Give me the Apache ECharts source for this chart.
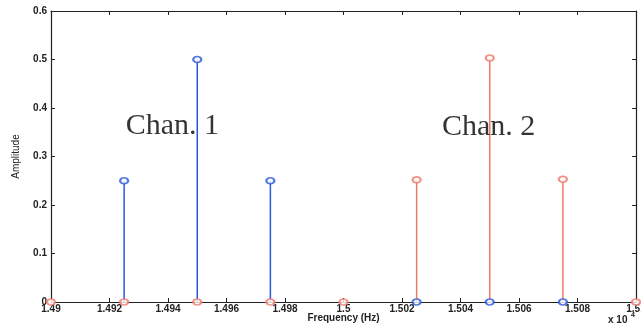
<!DOCTYPE html>
<html><head><meta charset="utf-8">
<script src="https://cdn.jsdelivr.net/npm/echarts@6/dist/echarts.min.js"></script>
<style>html,body{margin:0;padding:0;background:#fff}#c{width:641px;height:325px}</style>
</head><body><div id="c"></div>
<script>
// Frequencies in units of 1e4 Hz
const freqs = [1.49, 1.4925, 1.495, 1.4975, 1.50, 1.5025, 1.505, 1.5075, 1.51];
const chan1 = [0, 0.25, 0.50, 0.25, 0, 0, 0, 0, 0];
const chan2 = [0, 0, 0, 0, 0, 0.252, 0.503, 0.253, 0];
const chanLabels = ['Chan. 1', 'Chan. 2'];
const labelPos = [[1.49415, 0.362], [1.50496, 0.36]];

const blue = '#2a58dc';
const red = '#ee7b6a';
const axisFont = {fontFamily: 'Liberation Sans, Arial', fontSize: 10, fontWeight: 'bold', color: '#222'};

function pairs(arr){ return freqs.map((f,i)=>[f, arr[i]]); }

function stemSeries(data, color){
  return {
    type: 'custom',
    data: data,
    renderItem: function(params, api){
      const p0 = api.coord([api.value(0), 0]);
      const p1 = api.coord([api.value(0), api.value(1)]);
      return {type:'line', shape:{x1:p0[0], y1:p0[1], x2:p1[0], y2:p1[1]}, style:{stroke: color, lineWidth: 1.5}};
    },
    z: 2
  };
}
function markerSeries(data, color){
  return {
    type: 'scatter', data: data, symbol: 'emptyCircle', symbolSize: [8,6],
    itemStyle: {color: color, borderColor: color, borderWidth: 1.5}, z: 3
  };
}

const axLine = {onZero: false, lineStyle: {color: '#222', width: 1.2}};
const chart = echarts.init(document.getElementById('c'));
chart.setOption({
  animation: false,
  backgroundColor: '#fff',
  grid: {left: 51, right: 5, top: 11, bottom: 23, containLabel: false, outerBoundsMode: 'none'},
  xAxis: [{
    type: 'value', min: 1.49, max: 1.51, interval: 0.002,
    axisLine: axLine,
    axisTick: {inside: true, length: 4, lineStyle: {color: '#222'}},
    splitLine: {show: false},
    axisLabel: Object.assign({margin: 2, formatter: v => String(+v.toFixed(3))}, axisFont),
    name: 'Frequency (Hz)', nameLocation: 'middle', nameGap: 11, nameMoveOverlap: false,
    nameTextStyle: {fontFamily: 'Liberation Sans, Arial', fontSize: 10, fontWeight: 'bold', color: '#222', verticalAlign: 'top'}
  },{
    type: 'value', position: 'top', min: 1.49, max: 1.51, interval: 0.002,
    axisLine: axLine,
    axisTick: {inside: true, length: 4, lineStyle: {color: '#222'}},
    axisLabel: {show: false}, splitLine: {show: false}
  }],
  yAxis: [{
    type: 'value', min: 0, max: 0.6, interval: 0.1,
    axisLine: Object.assign({show: true}, axLine),
    axisTick: {show: true, inside: true, length: 4, lineStyle: {color: '#222'}},
    splitLine: {show: false},
    axisLabel: Object.assign({margin: 4, formatter: v => v === 0 ? '0' : v.toFixed(1)}, axisFont),
    name: 'Amplitude', nameLocation: 'middle', nameGap: 30, nameRotate: 90, nameMoveOverlap: false,
    nameTextStyle: {fontFamily: 'Liberation Sans Narrow, Liberation Sans, Arial', fontSize: 10, color: '#222'}
  },{
    type: 'value', position: 'right', min: 0, max: 0.6, interval: 0.1,
    axisLine: Object.assign({show: true}, axLine),
    axisTick: {show: true, inside: true, length: 4, lineStyle: {color: '#222'}},
    axisLabel: {show: false}, splitLine: {show: false}
  }],
  graphic: [{
    type: 'text', x: 608, y: 315, z: 10,
    style: {text: 'x 10', font: 'bold 10px Liberation Sans, Arial', fill: '#222'}
  },{
    type: 'text', x: 631, y: 312, z: 10,
    style: {text: '4', font: 'bold 7px Liberation Sans, Arial', fill: '#222'}
  }],
  series: [
    stemSeries(pairs(chan1), blue),
    stemSeries(pairs(chan2), red),
    markerSeries(pairs(chan2).filter(p=>p[1]===0), red),
    markerSeries(pairs(chan1).filter(p=>p[1]!==0 || (p[0]>1.5 && p[0]<1.51)), blue),
    markerSeries(pairs(chan2).filter(p=>p[1]!==0), red),
    {
      type: 'scatter', symbolSize: 0, z: 5,
      data: labelPos.map((p,i)=>({value: p, name: chanLabels[i]})),
      label: {show: true, position: 'inside', formatter: p => p.name,
        fontFamily: 'Liberation Serif, Times New Roman', fontSize: 30, color: '#000'}
    }
  ]
});
</script></body></html>
